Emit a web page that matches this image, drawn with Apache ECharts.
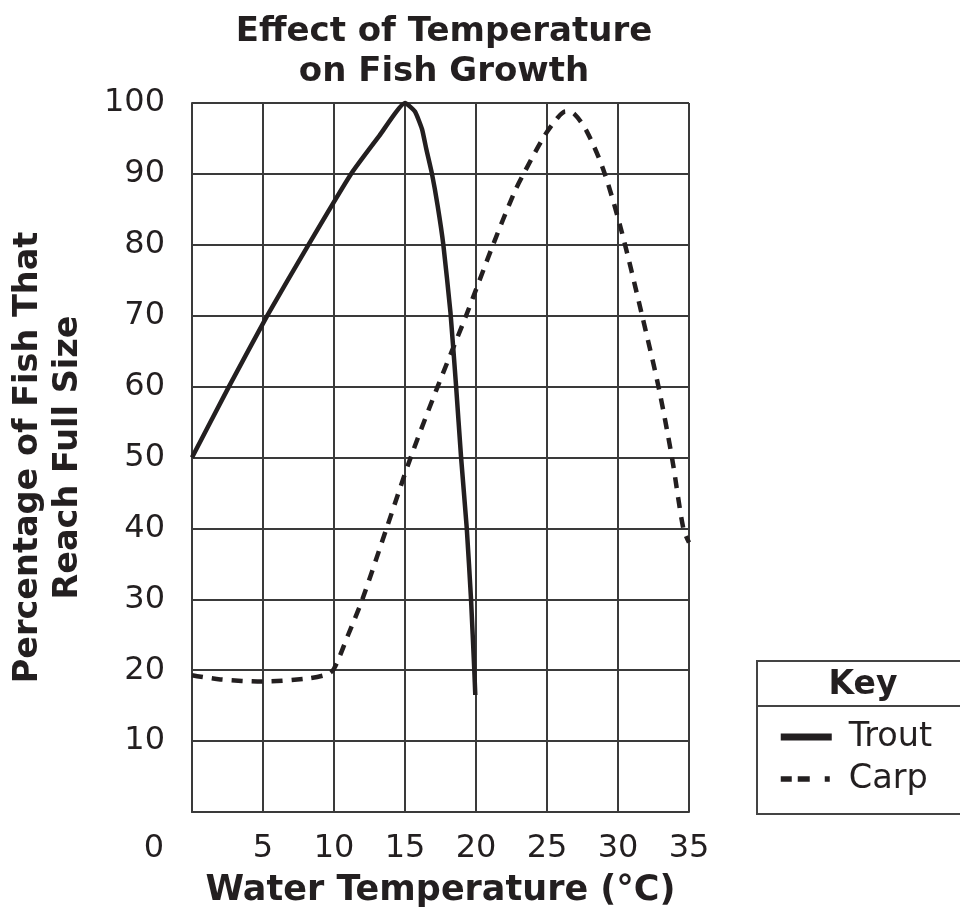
<!DOCTYPE html>
<html>
<head>
<meta charset="utf-8">
<script src="https://cdn.jsdelivr.net/npm/echarts@6/dist/echarts.min.js"></script>
<style>
html,body{margin:0;padding:0;background:#fff;}
#chart{width:960px;height:913px;}
</style>
</head>
<body>
<div id="chart"></div>
<script>
// Data
const troutTemp = [0, 2.6, 5.3, 8.2, 11.2, 13.2, 15, 15.7, 16.2, 16.5, 16.9, 17.3, 17.7, 18.2, 18.6, 18.95, 19.35, 19.65, 19.88, 19.95];
const troutPct  = [50, 60, 70, 80, 90, 95.4, 100, 98.8, 96.3, 93.5, 90, 85.5, 80, 70.5, 60, 50, 40, 30, 20, 16.5];

const carpTemp = [0, 2, 5, 8, 9.5, 10, 11, 12, 13.7, 15.4, 17.3, 19.3, 21.2, 22.7, 23.35, 24.8, 25.7, 26.3, 26.9, 27.8, 28.95, 30.2, 31.7, 32.85, 33.8, 34.6, 35];
const carpPct  = [19.3, 18.7, 18.4, 18.8, 19.4, 20.2, 25, 30, 40, 50, 60, 70, 80, 87.4, 90, 95.3, 97.8, 98.8, 98.5, 96, 90.7, 82.3, 70, 60, 50, 40, 38];

const xTicks = [0, 5, 10, 15, 20, 25, 30, 35];
const yTicks = [0, 10, 20, 30, 40, 50, 60, 70, 80, 90, 100];

const seriesNames = ['Trout', 'Carp'];
const titleText = 'Effect of Temperature\non Fish Growth';
const xName = 'Water Temperature (\u00B0C)';
const yName = 'Percentage of Fish That\nReach Full Size';

const FONT = '"DejaVu Sans", Verdana, sans-serif';
const INK = '#231f20';
const GRIDC = '#3a3a3a';

function pairs(xs, ys) { return xs.map((x, i) => [x, ys[i]]); }

const chart = echarts.init(document.getElementById('chart'), null, {renderer: 'canvas'});
chart.setOption({
  animation: false,
  backgroundColor: '#fff',
  title: {
    text: titleText,
    left: 439, top: 7, textAlign: 'center',
    textStyle: {fontFamily: FONT, fontSize: 34, fontWeight: 'bold', color: INK, lineHeight: 40}
  },
  grid: {left: 190, right: 271, top: 103, bottom: 99, containLabel: false},
  xAxis: {
    type: 'value', min: xTicks[0], max: xTicks[xTicks.length - 1], interval: 5,
    name: xName, nameLocation: 'middle', nameGap: 61,
    nameTextStyle: {fontFamily: FONT, fontSize: 35, fontWeight: 'bold', color: INK},
    axisLine: {show: true, lineStyle: {color: GRIDC, width: 2}},
    axisTick: {show: false},
    splitLine: {show: true, lineStyle: {color: GRIDC, width: 2}},
    axisLabel: {
      fontFamily: FONT, fontSize: 32, color: INK, margin: 21,
      formatter: v => v === 0 ? '{z|0}' : String(v),
      rich: {z: {fontFamily: FONT, fontSize: 32, color: INK, padding: [0, 76, 0, 0]}}
    }
  },
  yAxis: {
    type: 'value', min: yTicks[0], max: yTicks[yTicks.length - 1], interval: 10,
    name: yName, nameLocation: 'middle', nameGap: 104, nameRotate: 90,
    nameTextStyle: {fontFamily: FONT, fontSize: 33.5, fontWeight: 'bold', color: INK, lineHeight: 40, align: 'center'},
    axisLine: {show: true, lineStyle: {color: GRIDC, width: 2}},
    axisTick: {show: false},
    splitLine: {show: true, lineStyle: {color: GRIDC, width: 2}},
    axisLabel: {
      fontFamily: FONT, fontSize: 32, color: INK, margin: 27,
      formatter: v => v === 0 ? '' : String(v)
    }
  },
  legend: {
    orient: 'vertical', left: 778, top: 720, padding: 0,
    itemWidth: 51, itemHeight: 14, itemGap: 8,
    textStyle: {fontFamily: FONT, fontSize: 33.5, color: INK, lineHeight: 34, padding: [0, 0, 0, 12]},
    data: [
      {name: seriesNames[0], icon: 'path://M0,0L51,0L51,7L0,7Z', itemStyle: {color: INK}},
      {name: seriesNames[1], lineStyle: {color: INK, width: 5.5, type: [11, 6, 12, 15, 5, 10]}, itemStyle: {opacity: 0}}
    ]
  },
  graphic: [
    {type: 'rect', left: 756, top: 660, shape: {width: 230, height: 153}, style: {fill: '#fff', stroke: '#444', lineWidth: 2}, z: 0},
    {type: 'line', shape: {x1: 756, y1: 706, x2: 990, y2: 706}, style: {stroke: '#444', lineWidth: 2}, z: 1},
    {type: 'text', x: 863, y: 685, style: {text: 'Key', fontFamily: FONT, fontSize: 33, fontWeight: 'bold', fill: INK, align: 'center', verticalAlign: 'middle'}, z: 2}
  ],
  series: [
    {
      name: seriesNames[0], type: 'line', data: pairs(troutTemp, troutPct),
      symbol: 'none', smooth: 0.15, clip: false,
      lineStyle: {color: INK, width: 4.5},
      itemStyle: {color: INK}, z: 5
    },
    {
      name: seriesNames[1], type: 'line', data: pairs(carpTemp, carpPct),
      symbol: 'none', smooth: 0.3, clip: false,
      lineStyle: {color: INK, width: 4.5, type: [11, 9]},
      itemStyle: {color: INK}, z: 4
    }
  ]
});
</script>
</body>
</html>
